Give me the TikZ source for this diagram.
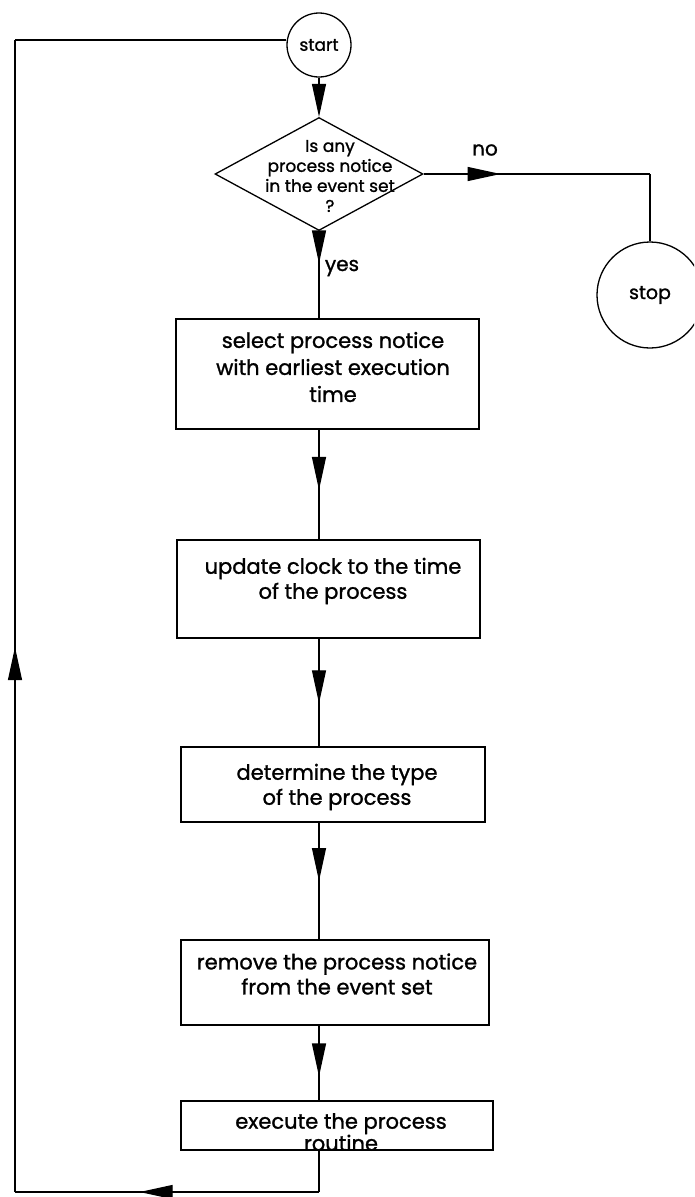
\documentclass[tikz,border=0pt]{standalone}
\usepackage{fontspec}
\setmainfont{Poppins}[FakeBold=1.2]
\usetikzlibrary{arrows.meta,shapes.geometric,decorations.markings}

\tikzset{
  x=1pt, y=-1pt,
  tip/.tip={Triangle[length=33pt,width=14pt]},
  outline/.style={draw, line width=1.3pt},
  stepbox/.style={outline, rectangle, inner sep=0pt},
  terminal/.style={outline, circle, inner sep=0pt},
  decision/.style={outline, diamond, inner sep=0pt},
  boxtext/.style={align=center, inner sep=0pt, font=\fontsize{21}{25}\selectfont},
  label text/.style={inner sep=0pt, font=\fontsize{20}{22}\selectfont},
  flow/.style={line width=1.2pt},
  midarrow/.style={flow, postaction={decorate}, decoration={markings,
      mark=at position #1 with {\arrow{tip}}}},
}

\begin{document}
\begin{tikzpicture}
  \path[use as bounding box] (0,0) rectangle (694,1197);
  \clip (0,0) rectangle (694,1197);

  % terminals
  \node[terminal, minimum size=64pt] (start) at (319,45)
    {\fontsize{17}{18}\selectfont start};
  \node[terminal, minimum size=106pt] (stop) at (650,295)
    {\fontsize{19}{20}\selectfont stop};

  % decision
  \node[decision, minimum width=208pt, minimum height=113pt] (test) at (319,174) {};
  \node[align=center, inner sep=0pt, font=\fontsize{17}{20}\selectfont]
    (testtext) at (330,176)
    {Is any\\process notice\\in the event set\\?};

  % process steps
  \node[stepbox, minimum width=303pt, minimum height=110pt] (b1) at (327.5,374) {};
  \node[boxtext, font=\fontsize{21}{27}\selectfont] (b1t) at (333,367)
    {select process notice\\with earliest execution\\time};

  \node[stepbox, minimum width=303pt, minimum height=98pt] (b2) at (328.5,589) {};
  \node[boxtext] (b2t) at (333,581) {update clock to the time\\of the process};

  \node[stepbox, minimum width=304pt, minimum height=75pt] (b3) at (333,784.5) {};
  \node[boxtext] (b3t) at (337,787) {determine the type\\of the process};

  \node[stepbox, minimum width=308pt, minimum height=85pt] (b4) at (335,982.5) {};
  \node[boxtext] (b4t) at (337,974) {remove the process notice\\from the event set};

  \node[stepbox, minimum width=312pt, minimum height=49pt] (b5) at (337,1125.5) {};
  \node[boxtext, font=\fontsize{21}{22}\selectfont] (b5t) at (341,1132)
    {execute the process\\routine};

  % branch labels
  \node[label text] (nolab) at (485,150) {no};
  \node[label text] (yeslab) at (342,268) {yes};

  % routing points
  \coordinate (nocorner) at (stop.north |- test.east);
  \coordinate (c1) at (b5.south -| start);
  \coordinate (lowcorner) at (c1 |- 0,1192);
  \coordinate (c2) at (15,1192);
  \coordinate (c3) at (15,40);
  \coordinate (startin) at (start.west |- c3);

  % main flow
  \draw[flow, -tip] (start) -- (test);
  \draw[midarrow=0.37] (test.south) -- (test.south |- b1.north);
  \draw[midarrow=0.55] (b1.south -| start) -- (b2.north -| start);
  \draw[midarrow=0.6] (b2.south -| start) -- (b3.north -| start);
  \draw[midarrow=0.5] (b3.south -| start) -- (b4.north -| start);
  \draw[midarrow=0.68] (b4.south -| start) -- (b5.north -| start);

  % no branch
  \draw[midarrow=0.34] (test.east) -- (nocorner);
  \draw[flow] (nocorner) -- (stop.north);

  % loop back to start
  \draw[flow] (c1) -- (lowcorner);
  \draw[midarrow=0.59] (lowcorner) -- (c2);
  \draw[midarrow=0.473] (c2) -- (c3);
  \draw[flow] (c3) -- (startin);
\end{tikzpicture}
\end{document}
